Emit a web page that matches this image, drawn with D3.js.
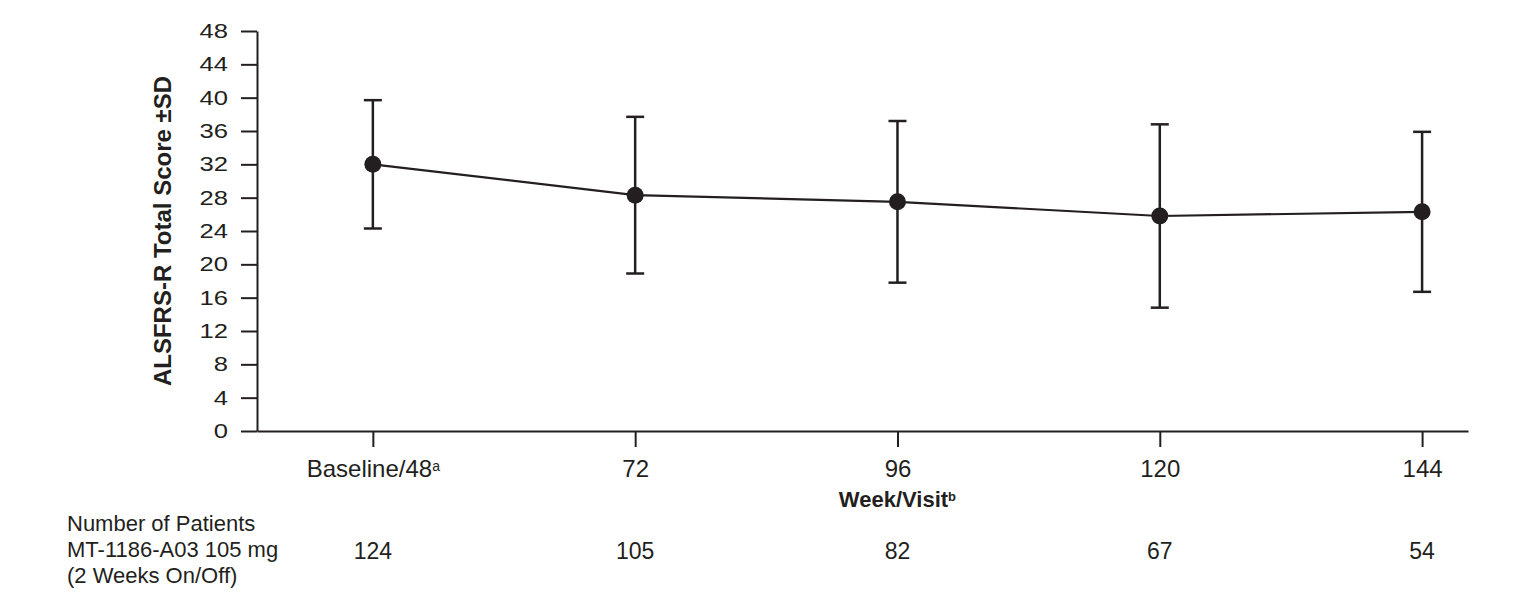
<!DOCTYPE html>
<html>
<head>
<meta charset="utf-8">
<script src="https://cdn.jsdelivr.net/npm/d3@7"></script>
<style>
  body { margin: 0; background: #fff; }
  svg { display: block; font-family: "Liberation Sans", Arial, sans-serif; }
</style>
</head>
<body>
<svg width="1532" height="613"></svg>
<script>
// data
var weeks = [48, 72, 96, 120, 144];
var weekLabels = ["Baseline/48", "72", "96", "120", "144"];
var weekSup = ["a", "", "", "", ""];
var means = [32.0, 28.3, 27.5, 25.8, 26.3];
var sds = [7.7, 9.4, 9.7, 11.0, 9.6];
var patients = [124, 105, 82, 67, 54];
var yTicks = [0, 4, 8, 12, 16, 20, 24, 28, 32, 36, 40, 44, 48];
var rowLabel = ["Number of Patients", "MT-1186-A03 105 mg", "(2 Weeks On/Off)"];

var ink = "#231f20";
var svg = d3.select("svg");

var x = d3.scaleLinear().domain([37.4, 148.2]).range([257, 1468]);
var y = d3.scaleLinear().domain([0, 48]).range([431, 31]);

// y axis
var yAxis = svg.append("g")
  .attr("transform", "translate(" + x(37.4) + ",0)")
  .call(d3.axisLeft(y).tickValues(yTicks).tickSize(16).tickSizeOuter(0));
yAxis.select(".domain").attr("stroke", ink).attr("stroke-width", 2);
yAxis.selectAll(".tick line").attr("stroke", ink).attr("stroke-width", 2);
yAxis.selectAll(".tick text")
  .attr("x", 0)
  .attr("transform", "translate(-29,0) scale(1.28,1)")
  .attr("fill", ink)
  .style("font-size", "20px")
  .style("font-family", "Liberation Sans, Arial, sans-serif");

// x axis
var xAxis = svg.append("g")
  .attr("transform", "translate(0," + y(0) + ")")
  .call(d3.axisBottom(x).tickValues(weeks).tickSize(16).tickSizeOuter(0).tickPadding(13)
    .tickFormat(function(d, i) { return weekLabels[i]; }));
xAxis.select(".domain").attr("stroke", ink).attr("stroke-width", 2);
xAxis.selectAll(".tick line").attr("stroke", ink).attr("stroke-width", 2);
xAxis.selectAll(".tick text")
  .attr("fill", ink)
  .style("font-size", "24px")
  .style("font-family", "Liberation Sans, Arial, sans-serif")
  .each(function(d, i) {
    if (weekSup[i]) {
      d3.select(this).append("tspan")
        .attr("dy", "-0.45em")
        .style("font-size", "14px")
        .text(weekSup[i]);
    }
  });

// axis titles
svg.append("text")
  .attr("transform", "translate(171," + y(24) + ") rotate(-90)")
  .attr("text-anchor", "middle")
  .attr("fill", ink)
  .style("font-size", "24px")
  .style("font-weight", "bold")
  .text("ALSFRS-R Total Score ±SD");

var xt = svg.append("text")
  .attr("x", x(96))
  .attr("y", 507)
  .attr("text-anchor", "middle")
  .attr("fill", ink)
  .style("font-size", "22px")
  .style("font-weight", "bold");
xt.append("tspan").text("Week/Visit");
xt.append("tspan").attr("dy", "-0.5em").style("font-size", "13px").text("b");

// mean line
var pts = weeks.map(function(w, i) { return { w: w, m: means[i], sd: sds[i] }; });
svg.append("path")
  .datum(pts)
  .attr("fill", "none")
  .attr("stroke", ink)
  .attr("stroke-width", 2.2)
  .attr("d", d3.line().x(function(d) { return x(d.w); }).y(function(d) { return y(d.m); }));

// error bars
var eb = svg.append("g").selectAll("g").data(pts).enter().append("g")
  .attr("stroke", ink).attr("stroke-width", 2.5);
eb.append("line")
  .attr("x1", function(d) { return x(d.w); })
  .attr("x2", function(d) { return x(d.w); })
  .attr("y1", function(d) { return y(d.m + d.sd); })
  .attr("y2", function(d) { return y(d.m - d.sd); });
eb.append("line")
  .attr("x1", function(d) { return x(d.w) - 9; })
  .attr("x2", function(d) { return x(d.w) + 9; })
  .attr("y1", function(d) { return y(d.m + d.sd); })
  .attr("y2", function(d) { return y(d.m + d.sd); });
eb.append("line")
  .attr("x1", function(d) { return x(d.w) - 9; })
  .attr("x2", function(d) { return x(d.w) + 9; })
  .attr("y1", function(d) { return y(d.m - d.sd); })
  .attr("y2", function(d) { return y(d.m - d.sd); });

svg.append("g").selectAll("circle").data(pts).enter().append("circle")
  .attr("cx", function(d) { return x(d.w); })
  .attr("cy", function(d) { return y(d.m); })
  .attr("r", 8.5)
  .attr("fill", ink);

// patients table
svg.append("g").selectAll("text").data(rowLabel).enter().append("text")
  .attr("x", 67)
  .attr("y", function(d, i) { return 531 + i * 26; })
  .attr("fill", ink)
  .style("font-size", "22px")
  .text(function(d) { return d; });

svg.append("g").selectAll("text").data(patients).enter().append("text")
  .attr("x", function(d, i) { return x(weeks[i]); })
  .attr("y", 559)
  .attr("text-anchor", "middle")
  .attr("fill", ink)
  .style("font-size", "23px")
  .text(function(d) { return d; });
</script>
</body>
</html>
